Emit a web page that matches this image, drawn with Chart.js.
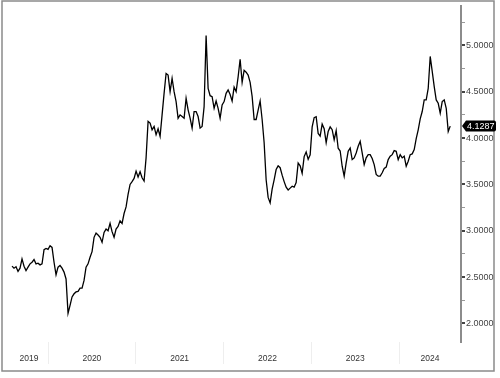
<!DOCTYPE html>
<html>
<head>
<meta charset="utf-8">
<script src="https://cdn.jsdelivr.net/npm/chart.js@4/dist/chart.umd.min.js"></script>
<style>
  body { margin: 0; background: #fff; }
  canvas { display: block; }
</style>
</head>
<body>
<canvas id="myChart" width="500" height="378"></canvas>
<script>
/* waarden (ongeveer elke 8 dagen) */
var startYear = 2019.59;
var stepYears = 0.0228;

var values2019 = [2.618, 2.596, 2.611, 2.561, 2.596, 2.696, 2.618, 2.571, 2.607, 2.643,
  2.661, 2.69, 2.643, 2.65, 2.632, 2.643, 2.796, 2.81, 2.80, 2.839,
  2.82, 2.66, 2.525, 2.607, 2.625, 2.596, 2.554, 2.48, 2.11, 2.196,
  2.286, 2.32, 2.34, 2.346, 2.382, 2.382, 2.464, 2.607, 2.643, 2.714,
  2.775, 2.929, 2.975, 2.954, 2.929, 2.875, 2.982, 3.018, 3.0, 3.08,
  2.99, 2.93, 3.018, 3.046];
var values2020 = [3.107, 3.079, 3.186, 3.257, 3.393, 3.50, 3.529, 3.564, 3.643, 3.579,
  3.636, 3.571, 3.536, 3.786, 4.179, 4.161, 4.089, 4.125, 4.036, 4.10,
  4.018, 4.25, 4.482, 4.696, 4.679, 4.50, 4.643, 4.50, 4.393, 4.214,
  4.25, 4.232, 4.214, 4.429, 4.304, 4.214, 4.107, 4.286, 4.286, 4.232,
  4.107, 4.125, 4.339, 5.107, 4.536, 4.457, 4.446, 4.321, 4.40, 4.321,
  4.214, 4.357, 4.393, 4.482, 4.518];
var values2021 = [4.47, 4.40, 4.55, 4.50, 4.66, 4.85, 4.60, 4.73, 4.71, 4.68,
  4.60, 4.45, 4.20, 4.20, 4.30, 4.40, 4.20, 3.95, 3.55, 3.36,
  3.30, 3.45, 3.55, 3.66, 3.70, 3.68, 3.60, 3.53, 3.47, 3.44,
  3.46, 3.48, 3.47, 3.52, 3.73, 3.70, 3.62, 3.80, 3.85, 3.77,
  3.82, 4.12, 4.22, 4.23, 4.05, 4.02, 4.15, 4.10, 3.95, 4.07,
  4.12, 4.09, 3.98, 4.08, 3.89, 3.86];
var values2023 = [3.696, 3.589, 3.732, 3.857, 3.893, 3.768, 3.786, 3.839, 3.911, 3.964,
  3.839, 3.714, 3.786, 3.821, 3.821, 3.779, 3.714, 3.607, 3.589, 3.589,
  3.625, 3.671, 3.686, 3.768, 3.804, 3.821, 3.864, 3.857, 3.768, 3.821,
  3.786, 3.804, 3.696, 3.75, 3.821, 3.829, 3.875, 3.993, 4.089, 4.207,
  4.286, 4.411, 4.411, 4.536, 4.88, 4.72, 4.554, 4.411, 4.375, 4.268,
  4.393, 4.411, 4.321, 4.071, 4.1287];

var yearLabels = ['2019', '2020', '2021', '2022', '2023', '2024'];
var yMajorTicks = [2.0, 2.5, 3.0, 3.5, 4.0, 4.5, 5.0];
var yMinorTicks = [2.25, 2.75, 3.25, 3.75, 4.25, 4.75, 5.25];
var xMin = 2019.567, xMax = 2024.706;
var yMin = 1.8, yMax = 5.42;

var values = values2019.concat(values2020, values2021, values2023);
var lastValue = values[values.length - 1];
var points = values.map(function (v, i) {
  return { x: startYear + i * stepYears, y: v };
});

/* kader rond de hele grafiek */
var framePlugin = {
  id: 'frame',
  beforeDraw: function (chart) {
    var c = chart.ctx;
    c.save();
    c.strokeStyle = '#8a8a8a';
    c.lineWidth = 1.5;
    c.strokeRect(2, 1, 492, 370);
    c.restore();
  }
};

/* zwart label met de laatste waarde */
var lastLabelPlugin = {
  id: 'lastLabel',
  afterDraw: function (chart) {
    var c = chart.ctx;
    var ys = chart.scales.y;
    var y = ys.getPixelForValue(lastValue);
    var x0 = ys.left + 1;
    var h = 11;
    c.save();
    c.fillStyle = '#000';
    c.beginPath();
    c.moveTo(x0, y);
    c.lineTo(x0 + 4, y - h / 2);
    c.lineTo(494, y - h / 2);
    c.quadraticCurveTo(496, y - h / 2, 496, y - h / 2 + 2);
    c.lineTo(496, y + h / 2 - 2);
    c.quadraticCurveTo(496, y + h / 2, 494, y + h / 2);
    c.lineTo(x0 + 4, y + h / 2);
    c.closePath();
    c.fill();
    c.fillStyle = '#fff';
    c.font = '9px "Liberation Sans", Arial, sans-serif';
    c.textBaseline = 'middle';
    c.fillText(lastValue.toFixed(4), x0 + 5, y + 0.5);
    c.restore();
  }
};

var ctx = document.getElementById('myChart');

var myChart = new Chart(ctx, {
  type: 'line',
  data: {
    datasets: [{
      data: points,
      borderColor: '#000',
      borderWidth: 1.3,
      pointRadius: 0,
      tension: 0
    }]
  },
  options: {
    responsive: false,
    animation: false,
    devicePixelRatio: 1,
    layout: { padding: { left: 10, top: 4, right: 0, bottom: 0 } },
    plugins: {
      legend: { display: false },
      tooltip: { enabled: false }
    },
    scales: {
      x: {
        type: 'linear',
        min: xMin,
        max: xMax,
        afterFit: function (scale) { scale.height = 36; },
        afterBuildTicks: function (scale) {
          var t = [];
          for (var i = 0; i < yearLabels.length; i++) {
            var yr = parseInt(yearLabels[i]);
            var a = Math.max(yr, xMin), b = Math.min(yr + 1, xMax);
            t.push({ value: (a + b) / 2 });
            if (yr > xMin && yr < xMax) t.push({ value: yr });
          }
          t.sort(function (p, q) { return p.value - q.value; });
          scale.ticks = t;
        },
        border: { display: false },
        grid: {
          drawOnChartArea: false,
          drawTicks: true,
          tickLength: 22,
          color: function (c) {
            return (c.tick && Number.isInteger(c.tick.value)) ? '#eeeeee' : 'rgba(0,0,0,0)';
          }
        },
        ticks: {
          autoSkip: false,
          maxRotation: 0,
          padding: -10,
          color: '#333',
          font: { family: '"Liberation Sans", Arial, sans-serif', size: 8.5 },
          callback: function (value) {
            return Number.isInteger(value) ? '' : String(Math.floor(value));
          }
        }
      },
      y: {
        position: 'right',
        min: yMin,
        max: yMax,
        afterFit: function (scale) { scale.width = 39; },
        afterBuildTicks: function (scale) {
          scale.ticks = yMajorTicks.concat(yMinorTicks)
            .sort(function (a, b) { return a - b; })
            .map(function (v) { return { value: v }; });
        },
        border: { display: true, color: '#8c8c8c', width: 2 },
        grid: {
          drawOnChartArea: false,
          drawTicks: true,
          tickLength: 4,
          lineWidth: function (c) {
            return (c.tick && yMajorTicks.indexOf(c.tick.value) >= 0) ? 2 : 1;
          },
          color: function (c) {
            return (c.tick && yMajorTicks.indexOf(c.tick.value) >= 0) ? '#444' : '#999';
          }
        },
        ticks: {
          autoSkip: false,
          padding: 1,
          color: '#444',
          font: { family: '"Liberation Sans", Arial, sans-serif', size: 9 },
          callback: function (value) {
            return yMajorTicks.indexOf(value) >= 0 ? value.toFixed(4) : '';
          }
        }
      }
    }
  },
  plugins: [framePlugin, lastLabelPlugin]
});
</script>
</body>
</html>
